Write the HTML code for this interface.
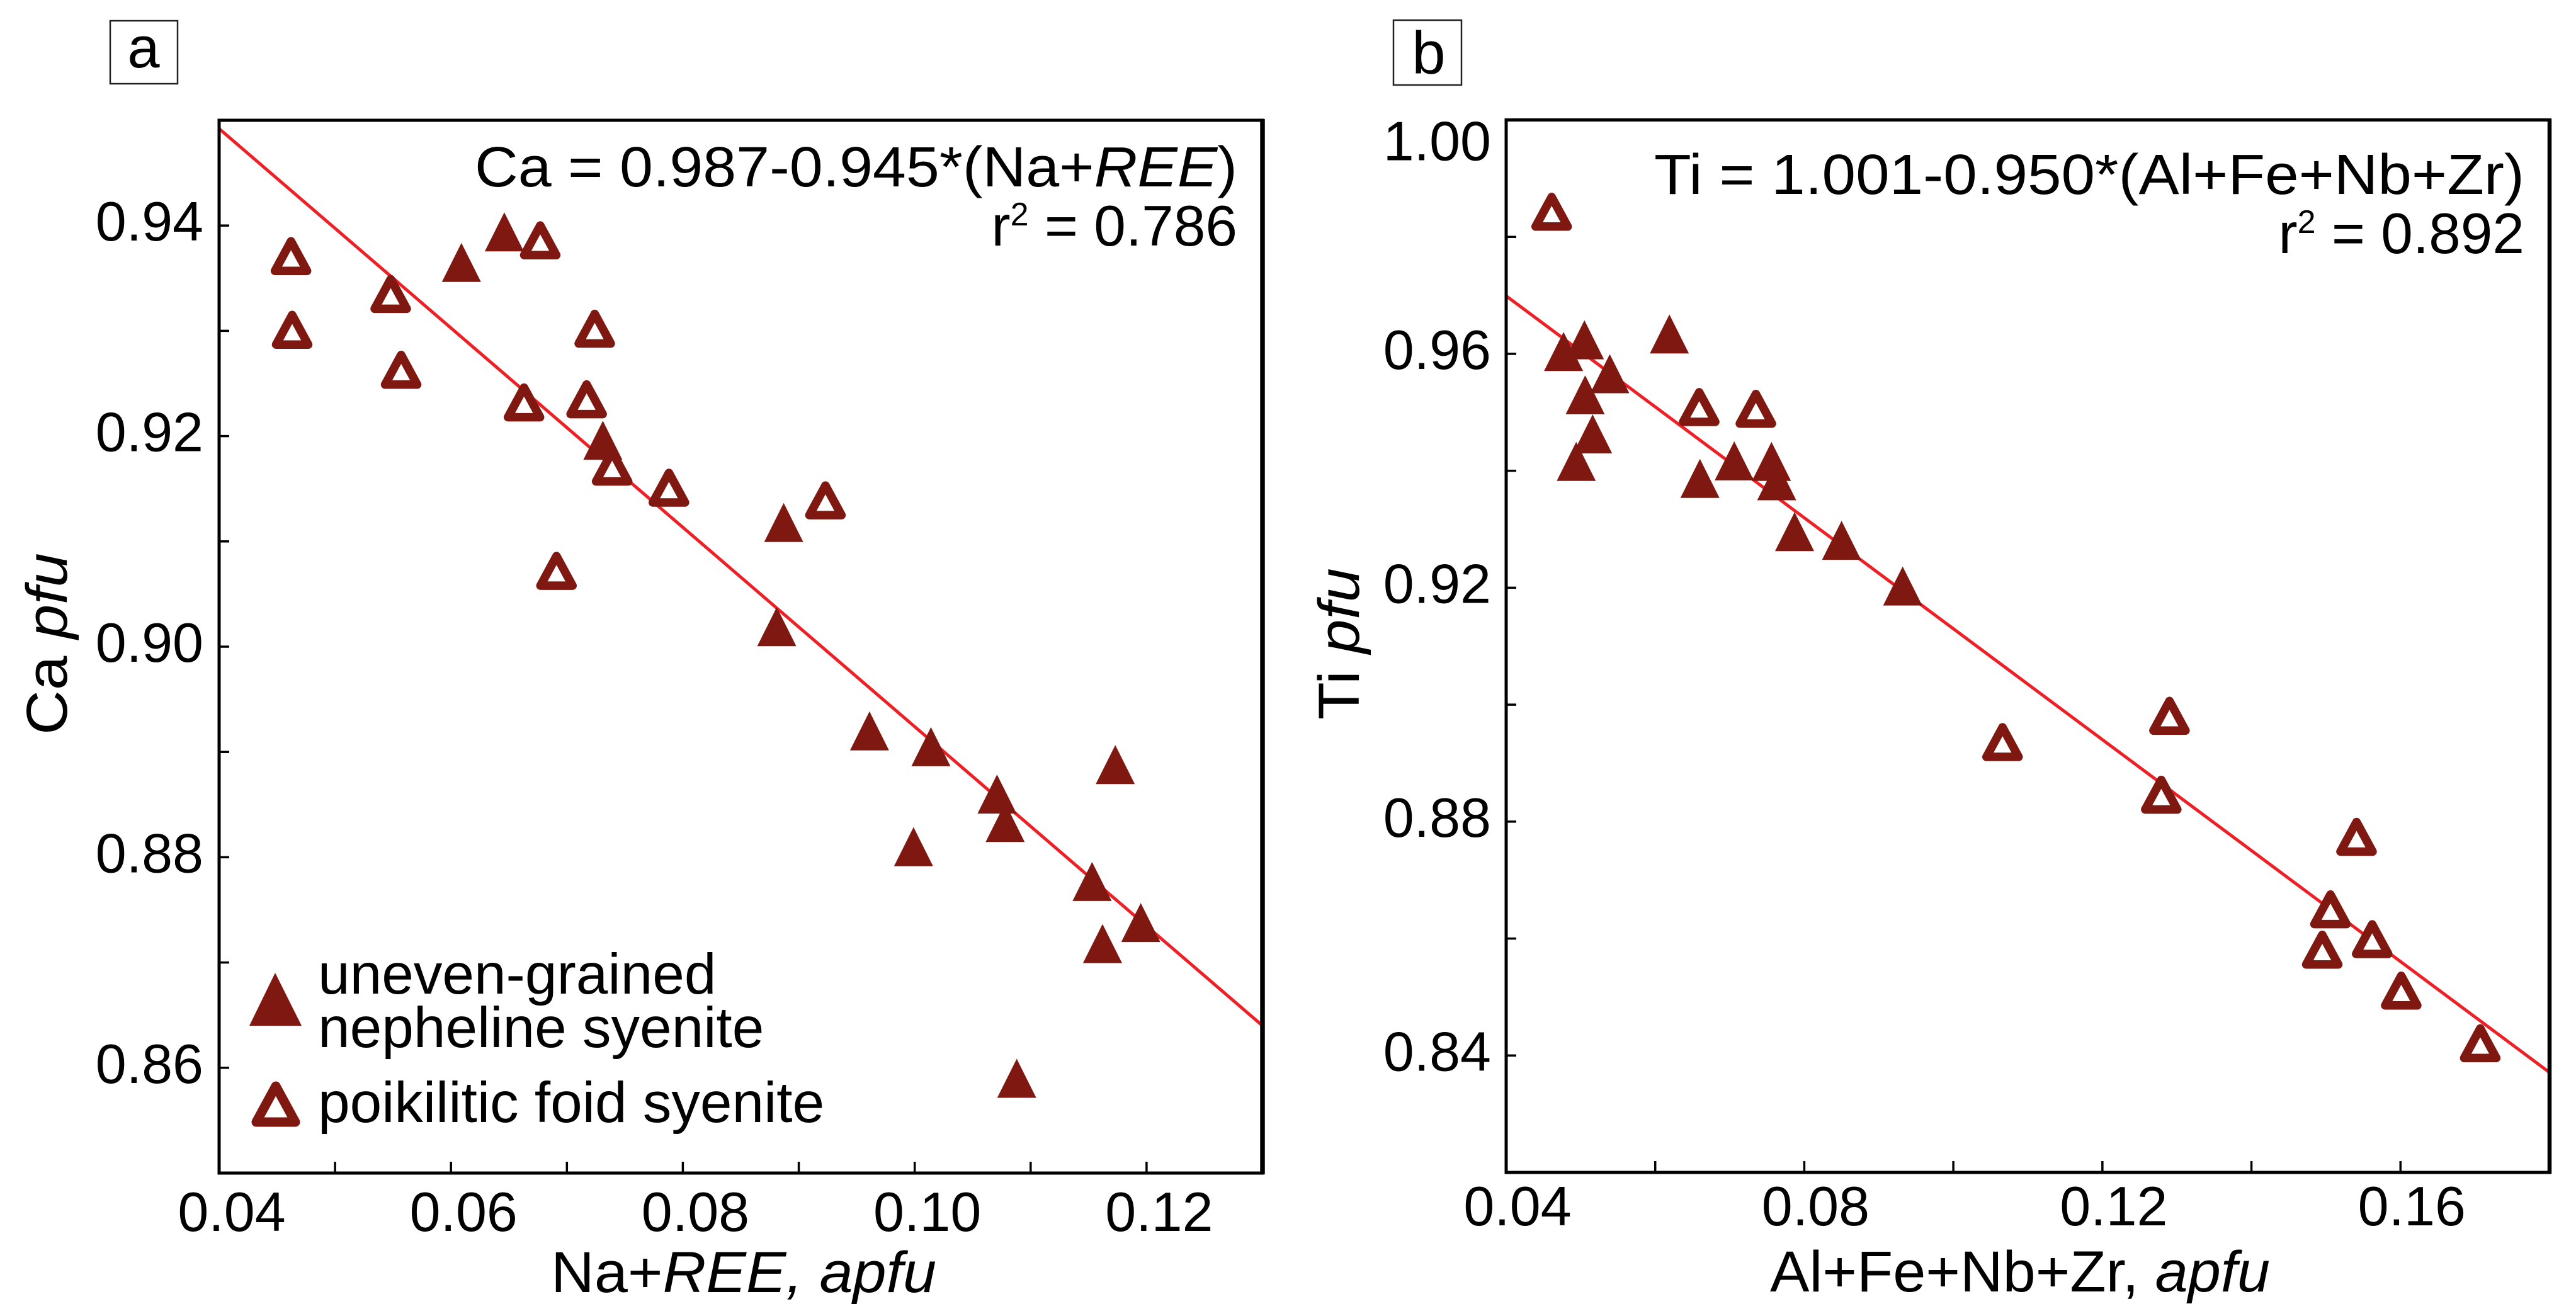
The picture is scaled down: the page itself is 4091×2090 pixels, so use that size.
<!DOCTYPE html>
<html lang="en">
<head>
<meta charset="utf-8">
<title>Ca and Ti correlation plots</title>
<style>
html,body{margin:0;padding:0;background:#fff;width:4091px;height:2090px;overflow:hidden}
svg{display:block}
text{font-family:"Liberation Sans",sans-serif;fill:#000}
</style>
</head>
<body>
<svg id="figure" xmlns="http://www.w3.org/2000/svg" width="4091" height="2090" viewBox="0 0 4091 2090">
  <rect x="0" y="0" width="4091" height="2090" fill="#fff"/>

  <g>
    <rect x="175" y="33" width="107" height="100" fill="#fff" stroke="#222" stroke-width="2.5"/>
    <text x="228" y="107" font-size="92" text-anchor="middle">a</text>
  </g>
  <g>
    <rect x="2213" y="32" width="108" height="103" fill="#fff" stroke="#222" stroke-width="2.5"/>
    <text x="2269" y="117" font-size="96" text-anchor="middle">b</text>
  </g>

  <g id="plot-a"></g>
  <g id="plot-b"></g>

  <text x="754" y="296" font-size="90" textLength="1211" lengthAdjust="spacingAndGlyphs">Ca = 0.987-0.945*(Na+<tspan font-style="italic">REE</tspan>)</text>
  <text x="1965" y="390" font-size="91" text-anchor="end">r<tspan font-size="52" dy="-32">2</tspan><tspan dy="32"> = 0.786</tspan></text>
  <text x="2627" y="308" font-size="90" textLength="1382" lengthAdjust="spacingAndGlyphs">Ti = 1.001-0.950*(Al+Fe+Nb+Zr)</text>
  <text x="4009" y="402" font-size="91" text-anchor="end">r<tspan font-size="52" dy="-32">2</tspan><tspan dy="32"> = 0.892</tspan></text>

  <text x="875" y="2052" font-size="92" textLength="612" lengthAdjust="spacingAndGlyphs">Na+<tspan font-style="italic">REE, apfu</tspan></text>
  <text x="2811" y="2051" font-size="92" textLength="794" lengthAdjust="spacingAndGlyphs">Al+Fe+Nb+Zr, <tspan font-style="italic">apfu</tspan></text>
  <text transform="translate(106 1167) rotate(-90)" font-size="92" textLength="289" lengthAdjust="spacingAndGlyphs">Ca <tspan font-style="italic">pfu</tspan></text>
  <text transform="translate(2158 1143) rotate(-90)" font-size="92" textLength="241" lengthAdjust="spacingAndGlyphs">Ti <tspan font-style="italic">pfu</tspan></text>

  <g>
    <g>
      <polygon points="437,1545 396,1629 479,1629" fill="#7e1810"/>
      <text x="505" y="1578" font-size="91">uneven-grained</text>
      <text x="505" y="1663" font-size="91">nepheline syenite</text>
    </g>
    <g>
      <polygon points="438,1725 407,1782 469,1782" fill="#fff" stroke="#7e1810" stroke-width="15" stroke-linejoin="round"/>
      <text x="505" y="1782" font-size="91">poikilitic foid syenite</text>
    </g>
  </g>
</svg>
<script>
// Panel a data
const aFilledX = [0.0609,0.0646,0.0731,0.0887,0.0881,0.0961,0.1014,0.1071,0.1078,0.0999,0.1153,0.1162,0.1195,0.1173,0.1088];
const aFilledY = [0.9365,0.9394,0.9196,0.9118,0.9019,0.8920,0.8905,0.8860,0.8833,0.8810,0.8777,0.8718,0.8738,0.8888,0.8590];
const aOpenX = [0.0462,0.0463,0.0548,0.0557,0.0663,0.0677,0.0724,0.0717,0.0739,0.0788,0.0923,0.0691];
const aOpenY = [0.9371,0.9301,0.9335,0.9263,0.9232,0.9386,0.9302,0.9235,0.9171,0.9151,0.9139,0.9072];
const aLineX = [0.04,0.13];
const aLineY = [0.9492,0.8640];
const aXTicks = [0.05,0.06,0.07,0.08,0.09,0.10,0.11,0.12];
const aYTicks = [0.94,0.93,0.92,0.91,0.90,0.89,0.88,0.87,0.86];
const aXLabels = ["0.04","0.06","0.08","0.10","0.12"];
const aYLabels = ["0.94","0.92","0.90","0.88","0.86"];

// Panel b data
const bFilledX = [0.0477,0.0505,0.0539,0.0506,0.0516,0.0494,0.0619,0.0660,0.0706,0.0756,0.0763,0.0787,0.0850,0.0932];
const bFilledY = [0.9604,0.9624,0.9566,0.9530,0.9463,0.9416,0.9634,0.9387,0.9417,0.9416,0.9383,0.9296,0.9281,0.9203];
const bOpenX = [0.0461,0.0659,0.0735,0.1066,0.1290,0.1279,0.1541,0.1506,0.1495,0.1562,0.1601,0.1707];
const bOpenY = [0.9843,0.9509,0.9506,0.8936,0.8981,0.8846,0.8774,0.8650,0.8581,0.8599,0.8511,0.8421];
const bLineX = [0.04,0.18];
const bLineY = [0.9699,0.8371];
const bXTicks = [0.06,0.08,0.10,0.12,0.14,0.16];
const bYTicks = [0.98,0.96,0.94,0.92,0.90,0.88,0.86,0.84];
const bXLabels = ["0.04","0.08","0.12","0.16"];
const bYLabels = ["1.00","0.96","0.92","0.88","0.84"];

const SVG_NS = "http://www.w3.org/2000/svg";

function make(tag, attrs, parent){
  const node = document.createElementNS(SVG_NS, tag);
  for (const k in attrs) node.setAttribute(k, attrs[k]);
  parent.appendChild(node);
  return node;
}

function drawPanel(cfg){
  const root = document.getElementById(cfg.id);
  const sx = v => cfg.left + (v - cfg.xMin) / (cfg.xMax - cfg.xMin) * (cfg.right - cfg.left);
  const sy = v => cfg.top + (cfg.yMax - v) / (cfg.yMax - cfg.yMin) * (cfg.bottom - cfg.top);

  // regression line
  const line = make("line", {x1:sx(cfg.lineX[0]), y1:sy(cfg.lineY[0]), x2:sx(cfg.lineX[1]), y2:sy(cfg.lineY[1]), stroke:"#ee2026", "stroke-width":5}, root);
  
  

  // frame
  const frame = make("rect", {x:cfg.left, y:cfg.top, width:cfg.right-cfg.left, height:cfg.bottom-cfg.top, fill:"none", stroke:"#000", "stroke-width":5}, root);
  
  

  const rightEdge = make("line", {x1:cfg.right, x2:cfg.right, y1:cfg.top-2, y2:cfg.bottom+2, stroke:"#000", "stroke-width":cfg.rightWidth}, root);
  
  

  // ticks
  cfg.xTicks.forEach(v => {
    const t = make("line", {x1:sx(v), x2:sx(v), y1:cfg.bottom, y2:cfg.bottom-18, stroke:"#000", "stroke-width":3.5}, root);
    
    
  });
  cfg.yTicks.forEach(v => {
    const t = make("line", {x1:cfg.left, x2:cfg.left+16, y1:sy(v), y2:sy(v), stroke:"#000", "stroke-width":3.5}, root);
    
    
  });

  // tick labels
  cfg.xLabels.forEach(s => {
    const l = make("text", {x:sx(parseFloat(s))+cfg.xLabelShift, y:cfg.xLabelBase, "font-size":88, "text-anchor":"middle"}, root);
    l.textContent = s;
    
    
  });
  cfg.yLabels.forEach(s => {
    const base = Math.max(sy(parseFloat(s)) + 24, cfg.top + 64);
    const l = make("text", {x:cfg.yLabelRight, y:base, "font-size":88, "text-anchor":"end"}, root);
    l.textContent = s;
    
    
  });

  // filled markers
  cfg.filledX.forEach((v, i) => {
    const cx = sx(v), cy = sy(cfg.filledY[i]);
    const p = make("polygon", {points:[cx,cy-31,cx-31,cy+31,cx+31,cy+31].join(" "), fill:"#7e1810"}, root);
    
    
  });

  // open markers
  cfg.openX.forEach((v, i) => {
    const cx = sx(v), cy = sy(cfg.openY[i]);
    const p = make("polygon", {points:[cx,cy-23.5,cx-25.5,cy+23.5,cx+25.5,cy+23.5].join(" "), fill:"#fff", stroke:"#7e1810", "stroke-width":13.5, "stroke-linejoin":"round"}, root);
    
    
  });
}

drawPanel({id:"plot-a", left:348, right:2005, top:191, bottom:1863, rightWidth:7.5, xMin:0.04, xMax:0.13, yMin:0.85, yMax:0.95,
  filledX:aFilledX, filledY:aFilledY, openX:aOpenX, openY:aOpenY, lineX:aLineX, lineY:aLineY,
  xTicks:aXTicks, yTicks:aYTicks, xLabels:aXLabels, yLabels:aYLabels, xLabelShift:20, xLabelBase:1955, yLabelRight:323});

drawPanel({id:"plot-b", left:2392, right:4049, top:190.5, bottom:1862, rightWidth:6.5, xMin:0.04, xMax:0.18, yMin:0.82, yMax:1.00,
  filledX:bFilledX, filledY:bFilledY, openX:bOpenX, openY:bOpenY, lineX:bLineX, lineY:bLineY,
  xTicks:bXTicks, yTicks:bYTicks, xLabels:bXLabels, yLabels:bYLabels, xLabelShift:18, xLabelBase:1946, yLabelRight:2368});
</script>
</body>
</html>
